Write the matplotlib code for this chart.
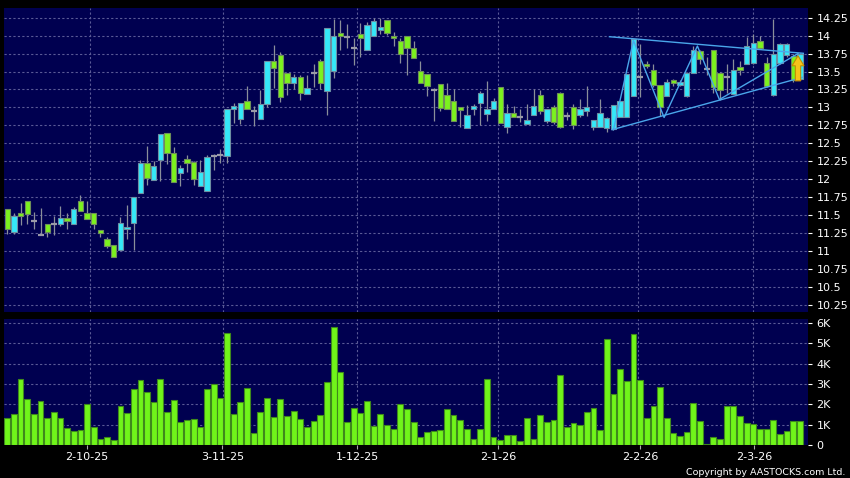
import numpy as np
import matplotlib
matplotlib.use("Agg")
from matplotlib import pyplot as plt
from matplotlib.patches import FancyArrow

# daily candles (open, high, low, close)
opens = [11.583, 11.269, 11.528, 11.69, 11.412, 11.227, 11.37, 11.37, 11.375, 11.454,
         11.38, 11.694, 11.528, 11.528, 11.292, 11.167, 11.083, 11.019, 11.306, 11.389,
         11.801, 12.222, 11.986, 12.269, 12.648, 12.361, 12.083, 12.278, 12.236, 11.907,
         11.829, 12.324, 12.333, 12.324, 12.972, 12.833, 13.083, 12.944, 12.833, 13.051,
         13.653, 13.731, 13.486, 13.338, 13.426, 13.181, 13.486, 13.653, 13.227, 13.514,
         14.042, 13.977, 13.824, 14.019, 13.806, 14.0, 14.074, 14.222, 13.995, 13.926,
         13.995, 13.833, 13.514, 13.472, 13.236, 13.333, 13.167, 13.083, 13.0, 12.713,
         12.972, 13.056, 12.903, 12.977, 13.287, 12.722, 12.917, 12.87, 12.764, 12.898,
         13.176, 12.806, 13.005, 13.199, 12.875, 13.0, 12.898, 12.944, 12.722, 12.722,
         12.713, 12.699, 12.861, 12.861, 13.153, 13.417, 13.611, 13.519, 13.315, 13.153,
         13.384, 13.31, 13.153, 13.486, 13.782, 13.542, 13.796, 13.486, 13.417, 13.181,
         13.569, 13.602, 13.625, 13.921, 13.615, 13.17, 13.62, 13.73, 13.71, 13.39]
highs = [11.583, 11.532, 11.667, 11.69, 11.542, 11.597, 11.37, 11.481, 11.63, 11.528,
         11.616, 11.773, 11.69, 11.528, 11.292, 11.194, 11.083, 11.472, 11.639, 11.759,
         12.264, 12.468, 12.259, 12.625, 12.648, 12.444, 12.2, 12.338, 12.259, 12.269,
         12.343, 12.352, 12.421, 12.972, 13.056, 13.065, 13.296, 13.023, 13.241, 13.653,
         13.866, 13.77, 13.486, 13.463, 13.458, 13.449, 13.602, 13.67, 14.111, 14.227,
         14.213, 14.157, 13.972, 14.18, 14.19, 14.25, 14.25, 14.222, 14.051, 13.968,
         13.995, 13.926, 13.648, 13.472, 13.264, 13.333, 13.338, 13.255, 13.0, 13.032,
         13.046, 13.231, 13.366, 13.125, 13.287, 13.051, 13.014, 12.977, 13.042, 13.255,
         13.236, 12.977, 13.03, 13.21, 12.93, 13.046, 13.116, 13.292, 12.829, 13.116,
         12.86, 13.037, 13.093, 13.463, 13.958, 13.88, 13.65, 13.6, 13.315, 13.4,
         13.4, 13.38, 13.5, 13.85, 13.8, 13.7, 13.8, 13.5, 13.6, 13.67,
         13.65, 13.977, 14.02, 14.0, 13.7, 14.227, 13.9, 13.9, 13.75, 13.76]
lows = [11.231, 11.236, 11.356, 11.375, 11.301, 11.227, 11.194, 11.218, 11.347, 11.301,
        11.38, 11.551, 11.444, 11.301, 11.199, 11.042, 10.917, 11.019, 11.171, 11.014,
        11.801, 11.926, 11.986, 11.981, 12.208, 11.958, 11.903, 12.097, 11.926, 11.907,
        11.829, 12.13, 12.227, 12.227, 12.787, 12.764, 12.977, 12.736, 12.833, 13.0,
        13.273, 13.079, 13.171, 13.255, 13.106, 13.181, 13.287, 13.255, 12.898, 13.412,
        13.801, 13.829, 13.588, 13.708, 13.806, 14.0, 14.019, 14.005, 13.856, 13.625,
        13.458, 13.694, 13.338, 13.153, 12.815, 12.944, 12.977, 12.806, 12.722, 12.713,
        12.894, 12.759, 12.806, 12.977, 12.782, 12.644, 12.87, 12.792, 12.764, 12.898,
        12.903, 12.78, 12.77, 12.713, 12.82, 12.70, 12.86, 12.88, 12.68, 12.722,
        12.66, 12.69, 12.861, 12.861, 13.153, 13.15, 13.55, 13.28, 12.884, 13.153,
        13.3, 13.3, 13.15, 13.486, 13.6, 13.45, 13.2, 13.1, 13.2, 13.181,
        13.45, 13.602, 13.6, 13.82, 13.29, 13.16, 13.6, 13.7, 13.36, 13.38]
closes = [11.306, 11.486, 11.491, 11.519, 11.412, 11.227, 11.269, 11.37, 11.458, 11.421,
          11.583, 11.551, 11.444, 11.38, 11.25, 11.069, 10.917, 11.389, 11.333, 11.759,
          12.222, 12.014, 12.181, 12.625, 12.361, 11.958, 12.153, 12.227, 12.005, 12.097,
          12.306, 12.324, 12.333, 12.972, 13.014, 13.065, 12.977, 12.944, 13.051, 13.653,
          13.556, 13.139, 13.338, 13.426, 13.199, 13.264, 13.486, 13.338, 14.111, 13.995,
          14.0, 13.977, 13.824, 13.972, 14.153, 14.208, 14.125, 14.042, 13.972, 13.741,
          13.833, 13.694, 13.338, 13.292, 13.236, 12.991, 12.977, 12.806, 12.963, 12.898,
          13.014, 13.194, 12.977, 13.083, 12.782, 12.926, 12.87, 12.87, 12.819, 13.014,
          12.944, 12.977, 12.792, 12.722, 12.875, 12.755, 12.977, 13.0, 12.829, 12.926,
          12.852, 13.037, 13.093, 13.463, 13.949, 13.417, 13.579, 13.31, 13.0, 13.361,
          13.347, 13.352, 13.477, 13.801, 13.681, 13.542, 13.287, 13.241, 13.417, 13.519,
          13.528, 13.856, 13.903, 13.829, 13.30, 13.75, 13.88, 13.88, 13.38, 13.75]

# volume in thousands
volume = [1.35, 1.53, 3.22, 2.25, 1.50, 2.14, 1.32, 1.60, 1.32, 0.82,
          0.71, 0.76, 2.02, 0.86, 0.28, 0.39, 0.25, 1.91, 1.56, 2.76,
          3.17, 2.60, 2.11, 3.26, 1.60, 2.22, 1.15, 1.23, 1.28, 0.86,
          2.76, 2.99, 2.32, 5.51, 1.53, 2.12, 2.80, 0.59, 1.64, 2.32,
          1.38, 2.24, 1.43, 1.68, 1.28, 0.90, 1.20, 1.48, 3.09, 5.82,
          3.57, 1.12, 1.81, 1.56, 2.14, 0.92, 1.50, 0.97, 0.81, 2.01,
          1.79, 1.12, 0.39, 0.63, 0.67, 0.74, 1.76, 1.48, 1.22, 0.79,
          0.28, 0.77, 3.24, 0.38, 0.25, 0.51, 0.51, 0.21, 1.32, 0.30,
          1.46, 1.13, 1.23, 3.42, 0.86, 1.07, 1.00, 1.64, 1.82, 0.76,
          5.22, 2.49, 3.71, 3.13, 5.44, 3.18, 1.34, 1.94, 2.87, 1.31,
          0.61, 0.45, 0.63, 2.07, 1.16, 0.05, 0.38, 0.28, 1.91, 1.94,
          1.41, 1.09, 1.01, 0.80, 0.78, 1.23, 0.53, 0.71, 1.19, 1.16]

date_labels = ["2-10-25", "3-11-25", "1-12-25", "2-1-26", "2-2-26", "2-3-26"]
date_ticks = [11.95, 32.3, 52.5, 73.7, 95.0, 112.1]
date_grid = [12.4, 32.4, 52.5, 73.6, 94.7, 112.0]

price_ticks = [10.25, 10.5, 10.75, 11, 11.25, 11.5, 11.75, 12, 12.25, 12.5,
               12.75, 13, 13.25, 13.5, 13.75, 14, 14.25]
vol_ticks = [0, 1, 2, 3, 4, 5, 6]
vol_labels = ["0", "1K", "2K", "3K", "4K", "5K", "6K"]

# triangle drawn on the chart: (bar index, price)
zigzag_x = [91, 94, 98.6, 103.6, 106.9, 118.7]
zigzag_y = [12.69, 13.93, 12.86, 13.855, 13.11, 13.75]
upper_x = [90.4, 119.5]
upper_y = [13.985, 13.754]
lower_x = [90.8, 119.4]
lower_y = [12.69, 13.42]
arrow_pos = [118.7, 13.37, 13.72]   # x, base, tip

BG = "#000050"
GRID = "#5a5a96"
CYAN = "#35e8f8"
GREEN = "#7cf21e"

opens = np.array(opens)
highs = np.array(highs)
lows = np.array(lows)
closes = np.array(closes)
volume = np.array(volume)
idx = np.arange(len(opens))

fig = plt.figure(figsize=(8.5, 4.78), dpi=100, facecolor="black")
ax = fig.add_axes([4 / 850, 1 - 312 / 478, 804 / 850, 304 / 478])
axv = fig.add_axes([4 / 850, 1 - 445 / 478, 804 / 850, 126 / 478], sharex=ax)

for a in (ax, axv):
    a.set_facecolor(BG)
    for s in a.spines.values():
        s.set_visible(False)
    a.yaxis.tick_right()
    a.tick_params(axis="y", colors="white", labelcolor="white", labelsize=8,
                  length=3, width=0.8, pad=3, direction="out")
    a.grid(axis="y", color=GRID, linestyle=(0, (2, 2)), linewidth=0.8)
    for g in date_grid:
        a.axvline(g, color=GRID, linestyle=(0, (2, 2)), linewidth=0.8, zorder=0)
    a.set_axisbelow(True)

# candles
up = closes > opens
down = closes < opens
flat = closes == opens
ax.vlines(idx, lows, highs, color="#8a8f9a", linewidth=0.9, zorder=2)
ax.bar(idx[up], closes[up] - opens[up], bottom=opens[up], width=0.8,
       color=CYAN, edgecolor="#6d8fa3", linewidth=0.8, zorder=3)
ax.bar(idx[down], opens[down] - closes[down], bottom=closes[down], width=0.8,
       color=GREEN, edgecolor="#6f8f5a", linewidth=0.8, zorder=3)
ax.hlines(opens[flat], idx[flat] - 0.45, idx[flat] + 0.45, color="#9a9aa8",
          linewidth=1.6, zorder=3)

# triangle lines
ax.plot(zigzag_x, zigzag_y, color="#4aa6ea", linewidth=1, zorder=4)
ax.plot(upper_x, upper_y, color="#4aa6ea", linewidth=1, zorder=4)
ax.plot(lower_x, lower_y, color="#4aa6ea", linewidth=1, zorder=4)
ax.add_patch(FancyArrow(arrow_pos[0], arrow_pos[1], 0, arrow_pos[2] - arrow_pos[1],
                        width=0.8, head_width=1.8, head_length=0.14,
                        length_includes_head=True, facecolor="#f7c21a",
                        edgecolor="#c58a00", linewidth=0.8, zorder=5))

ax.set_ylim(10.15, 14.385)
ax.set_yticks(price_ticks)
ax.set_yticklabels(["%g" % t for t in price_ticks])
ax.tick_params(axis="x", bottom=False, labelbottom=False)

# volume
axv.bar(idx, volume, width=0.88, color="#70f51a", edgecolor="#3f8a1c",
        linewidth=0.8, zorder=3)
axv.set_ylim(0, 6.19)
axv.set_yticks(vol_ticks)
axv.set_yticklabels(vol_labels)

axv.set_xlim(-0.48, 120.2)
axv.set_xticks(date_ticks)
axv.set_xticklabels(date_labels)
axv.tick_params(axis="x", colors="#aaaaaa", labelcolor="white", labelsize=8,
                length=3, pad=2)

fig.text(0.995, 0.002, "Copyright by AASTOCKS.com Ltd.", color="white",
         fontsize=6.8, ha="right", va="bottom")

fig.savefig("out.png", dpi=100, facecolor="black")
